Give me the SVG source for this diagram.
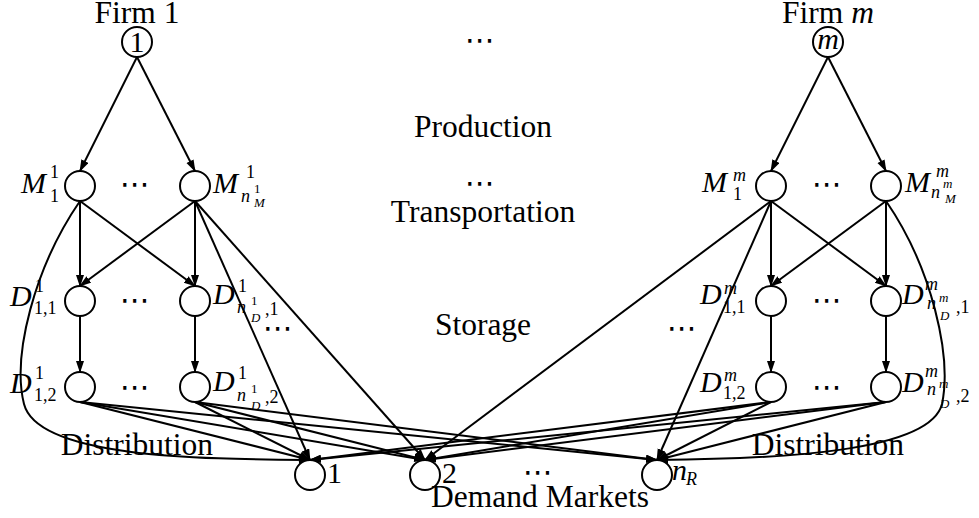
<svg xmlns="http://www.w3.org/2000/svg" width="979" height="518" viewBox="0 0 979 518">
  <defs>
    <marker id="arr" markerUnits="userSpaceOnUse" markerWidth="14" markerHeight="10" refX="11" refY="4" orient="auto">
      <path d="M0,0 L12,4 L0,8 Z" fill="#000"/>
    </marker>
    <style>
      .edge { fill: none; stroke: #000; stroke-width: 2; marker-end: url(#arr); }
      .node { fill: #fff; stroke: #000; stroke-width: 2; }
      text { font-family: 'Liberation Serif', 'DejaVu Serif', serif; font-size: 30px; fill: #000; }
      .w { font-size: 31.5px; }
      .i { font-style: italic; }
      .s { font-size: 18px; }
      .ss { font-size: 13px; }
      .dots { font-family: 'DejaVu Sans', sans-serif; font-size: 30px; text-anchor: middle; }
      .lab { text-anchor: middle; }
    </style>
  </defs>
  <rect width="979" height="518" fill="#fff"/>

  <!-- connectors -->
  <g id="connectors">
    <!-- production -->
    <line class="edge" x1="137" y1="57" x2="80" y2="171"/>
    <line class="edge" x1="137" y1="57" x2="195" y2="171"/>
    <line class="edge" x1="828" y1="57" x2="771" y2="171"/>
    <line class="edge" x1="828" y1="57" x2="886" y2="171"/>
    <!-- transportation, firm 1 -->
    <line class="edge" x1="80" y1="201" x2="80" y2="286"/>
    <line class="edge" x1="80" y1="201" x2="195" y2="286"/>
    <line class="edge" x1="195" y1="201" x2="80" y2="286"/>
    <line class="edge" x1="195" y1="201" x2="195" y2="286"/>
    <line class="edge" x1="195" y1="201" x2="310" y2="460"/>
    <line class="edge" x1="195" y1="201" x2="425" y2="460"/>
    <path class="edge" d="M80,201 C34,268 12,356 24,404 C38,458 200,459 310,460"/>
    <!-- transportation, firm m -->
    <line class="edge" x1="771" y1="201" x2="771" y2="286"/>
    <line class="edge" x1="771" y1="201" x2="886" y2="286"/>
    <line class="edge" x1="886" y1="201" x2="771" y2="286"/>
    <line class="edge" x1="886" y1="201" x2="886" y2="286"/>
    <line class="edge" x1="771" y1="201" x2="425" y2="460"/>
    <line class="edge" x1="771" y1="201" x2="657" y2="460"/>
    <path class="edge" d="M886,201 C932,268 952,356 942,404 C930,452 780,459 657,460"/>
    <!-- storage -->
    <line class="edge" x1="80" y1="316" x2="80" y2="372"/>
    <line class="edge" x1="195" y1="316" x2="195" y2="372"/>
    <line class="edge" x1="771" y1="316" x2="771" y2="372"/>
    <line class="edge" x1="886" y1="316" x2="886" y2="372"/>
    <!-- distribution -->
    <line class="edge" x1="80" y1="402" x2="310" y2="460"/>
    <line class="edge" x1="80" y1="402" x2="425" y2="460"/>
    <line class="edge" x1="80" y1="402" x2="657" y2="460"/>
    <line class="edge" x1="195" y1="402" x2="310" y2="460"/>
    <line class="edge" x1="195" y1="402" x2="425" y2="460"/>
    <line class="edge" x1="195" y1="402" x2="657" y2="460"/>
    <line class="edge" x1="771" y1="402" x2="310" y2="460"/>
    <line class="edge" x1="771" y1="402" x2="425" y2="460"/>
    <line class="edge" x1="771" y1="402" x2="657" y2="460"/>
    <line class="edge" x1="886" y1="402" x2="310" y2="460"/>
    <line class="edge" x1="886" y1="402" x2="425" y2="460"/>
    <line class="edge" x1="886" y1="402" x2="657" y2="460"/>
  </g>

  <!-- firms -->
  <g id="firm1">
    <circle class="node" cx="137" cy="42" r="15"/>
    <text class="lab" x="137" y="52">1</text>
    <text class="lab w" x="137" y="23">Firm 1</text>
  </g>
  <g id="firmm">
    <circle class="node" cx="828" cy="42" r="15"/>
    <text class="lab i" x="828" y="49">m</text>
    <text class="lab w" x="828" y="23">Firm <tspan class="i">m</tspan></text>
  </g>

  <!-- manufacturing plants -->
  <g id="M1_1">
    <circle class="node" cx="80" cy="186" r="15"/>
    <text><tspan class="i" x="21" y="193">M</tspan><tspan class="s" x="50" y="178">1</tspan><tspan class="s" x="50" y="202">1</tspan></text>
  </g>
  <g id="Mn_1">
    <circle class="node" cx="195" cy="186" r="15"/>
    <text><tspan class="i" x="213" y="193">M</tspan><tspan class="s" x="246" y="178">1</tspan><tspan class="s i" x="241" y="202">n</tspan><tspan class="ss" x="254" y="193">1</tspan><tspan class="ss i" x="254" y="207">M</tspan></text>
  </g>
  <g id="M1_m">
    <circle class="node" cx="771" cy="186" r="15"/>
    <text><tspan class="i" x="702" y="192">M</tspan><tspan class="s i" x="733" y="181">m</tspan><tspan class="s" x="733" y="200">1</tspan></text>
  </g>
  <g id="Mn_m">
    <circle class="node" cx="886" cy="186" r="15"/>
    <text><tspan class="i" x="905" y="192">M</tspan><tspan class="s i" x="936" y="177">m</tspan><tspan class="s i" x="931" y="198">n</tspan><tspan class="ss i" x="943" y="188">m</tspan><tspan class="ss i" x="945" y="203">M</tspan></text>
  </g>

  <!-- distribution centers, firm 1 -->
  <g id="D11_1">
    <circle class="node" cx="80" cy="301" r="15"/>
    <text><tspan class="i" x="10" y="306">D</tspan><tspan class="s" x="35" y="292">1</tspan><tspan class="s" x="34" y="314">1,1</tspan></text>
  </g>
  <g id="D12_1">
    <circle class="node" cx="80" cy="387" r="15"/>
    <text><tspan class="i" x="10" y="393">D</tspan><tspan class="s" x="35" y="379">1</tspan><tspan class="s" x="34" y="401">1,2</tspan></text>
  </g>
  <g id="Dn1_1">
    <circle class="node" cx="195" cy="301" r="15"/>
    <text><tspan class="i" x="213" y="304">D</tspan><tspan class="s" x="238" y="292">1</tspan><tspan class="s i" x="237" y="313">n</tspan><tspan class="ss" x="251" y="305">1</tspan><tspan class="ss i" x="251" y="322">D</tspan><tspan class="s" x="265" y="315">,1</tspan></text>
  </g>
  <g id="Dn2_1">
    <circle class="node" cx="195" cy="387" r="15"/>
    <text><tspan class="i" x="213" y="391">D</tspan><tspan class="s" x="238" y="379">1</tspan><tspan class="s i" x="237" y="401">n</tspan><tspan class="ss" x="251" y="393">1</tspan><tspan class="ss i" x="251" y="410">D</tspan><tspan class="s" x="265" y="403">,2</tspan></text>
  </g>

  <!-- distribution centers, firm m -->
  <g id="D11_m">
    <circle class="node" cx="771" cy="301" r="15"/>
    <text><tspan class="i" x="700" y="304">D</tspan><tspan class="s i" x="724" y="294">m</tspan><tspan class="s" x="723" y="313">1,1</tspan></text>
  </g>
  <g id="D12_m">
    <circle class="node" cx="771" cy="387" r="15"/>
    <text><tspan class="i" x="700" y="392">D</tspan><tspan class="s i" x="724" y="381">m</tspan><tspan class="s" x="723" y="399">1,2</tspan></text>
  </g>
  <g id="Dn1_m">
    <circle class="node" cx="886" cy="301" r="15"/>
    <text><tspan class="i" x="902" y="304">D</tspan><tspan class="s i" x="925" y="290">m</tspan><tspan class="s i" x="927" y="309">n</tspan><tspan class="ss i" x="939" y="302">m</tspan><tspan class="ss i" x="940" y="320">D</tspan><tspan class="s" x="956" y="313">,1</tspan></text>
  </g>
  <g id="Dn2_m">
    <circle class="node" cx="886" cy="387" r="15"/>
    <text><tspan class="i" x="902" y="392">D</tspan><tspan class="s i" x="925" y="377">m</tspan><tspan class="s i" x="927" y="395">n</tspan><tspan class="ss i" x="939" y="388">m</tspan><tspan class="ss i" x="940" y="408">D</tspan><tspan class="s" x="956" y="402">,2</tspan></text>
  </g>

  <!-- demand markets -->
  <g id="R1">
    <circle class="node" cx="310" cy="475" r="15"/>
    <text x="327" y="483">1</text>
  </g>
  <g id="R2">
    <circle class="node" cx="425" cy="475" r="15"/>
    <text x="442" y="483">2</text>
  </g>
  <g id="RnR">
    <circle class="node" cx="657" cy="475" r="15"/>
    <text><tspan class="i" x="672" y="480">n</tspan><tspan class="s i" x="686" y="485">R</tspan></text>
  </g>

  <!-- tier labels -->
  <g id="tiers">
    <text class="lab w" x="483" y="137">Production</text>
    <text class="lab w" x="483" y="222">Transportation</text>
    <text class="lab w" x="483" y="335">Storage</text>
    <text class="lab w" x="137" y="455">Distribution</text>
    <text class="lab w" x="828" y="455">Distribution</text>
    <text class="lab w" x="540" y="507">Demand Markets</text>
  </g>
  <!-- ellipses -->
  <g id="ellipses">
    <text class="dots" x="480" y="50">⋯</text>
    <text class="dots" x="480" y="193">⋯</text>
    <text class="dots" x="135" y="194">⋯</text>
    <text class="dots" x="827" y="194">⋯</text>
    <text class="dots" x="135" y="310">⋯</text>
    <text class="dots" x="827" y="310">⋯</text>
    <text class="dots" x="135" y="397">⋯</text>
    <text class="dots" x="827" y="397">⋯</text>
    <text class="dots" x="278" y="338">⋯</text>
    <text class="dots" x="682" y="338">⋯</text>
    <text class="dots" x="538" y="482">⋯</text>
  </g>
</svg>
